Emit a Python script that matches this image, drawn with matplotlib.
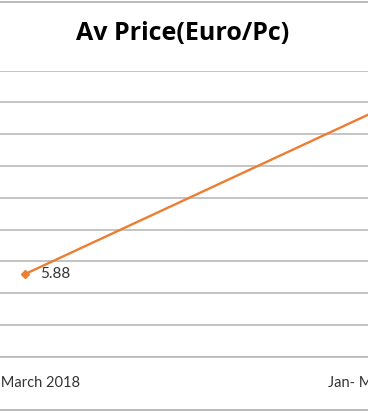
import matplotlib.pyplot as plt
from matplotlib.lines import Line2D

# data
periods = ['Jan- March 2018', 'Jan- March 2019']
av_price = [5.88, 7.45]
label_points = [0]  # only the first data label is visible in the crop

y_ticks = [5.1 + 0.3 * i for i in range(10)]

plt.rcParams['font.family'] = ['Lato', 'DejaVu Sans']

fig = plt.figure(figsize=(3.68, 4.13), dpi=100)
# the chart is cropped in the reference, so the axes run past the figure edges
ax = fig.add_axes([-0.4185, 0.1363, 1.9457, 0.6925])

x = list(range(len(periods)))
ax.plot(x, av_price, color='#ED7D31', lw=1.7, marker='D', ms=4.5,
        mec='#ED7D31', mfc='#ED7D31', zorder=3, clip_on=False)

for i in label_points:
    ax.annotate(f'{av_price[i]:.2f}', (x[i], av_price[i]), xytext=(11, 0),
                textcoords='offset points', ha='left', va='center',
                fontsize=11, color='#333333')

ax.set_xlim(-0.5, 1.5)
ax.set_ylim(y_ticks[0], y_ticks[-1])
ax.set_yticks(y_ticks)
ax.set_xticks(x)
ax.set_xticklabels(periods, fontsize=10.5, color='#333333')
ax.tick_params(axis='x', length=0, pad=14)
ax.tick_params(axis='y', length=0, labelleft=False)
ax.yaxis.grid(True, color='#B4B4B4', lw=1.1)
ax.set_axisbelow(True)
for s in ['top', 'left', 'right']:
    ax.spines[s].set_visible(False)
ax.spines['bottom'].set_color('#B4B4B4')
ax.spines['bottom'].set_linewidth(1.1)

fig.text(0.497, 0.918, 'Av Price(Euro/Pc)', ha='center', va='center',
         fontsize=18, fontweight='bold', color='black',
         family=['Open Sans', 'DejaVu Sans'])

# outer chart border (top and bottom visible)
for yy in [0.996, 0.007]:
    fig.add_artist(Line2D([0, 1], [yy, yy], transform=fig.transFigure,
                          color='#B4B4B4', lw=1.3))

fig.savefig('out.png', dpi=100)
